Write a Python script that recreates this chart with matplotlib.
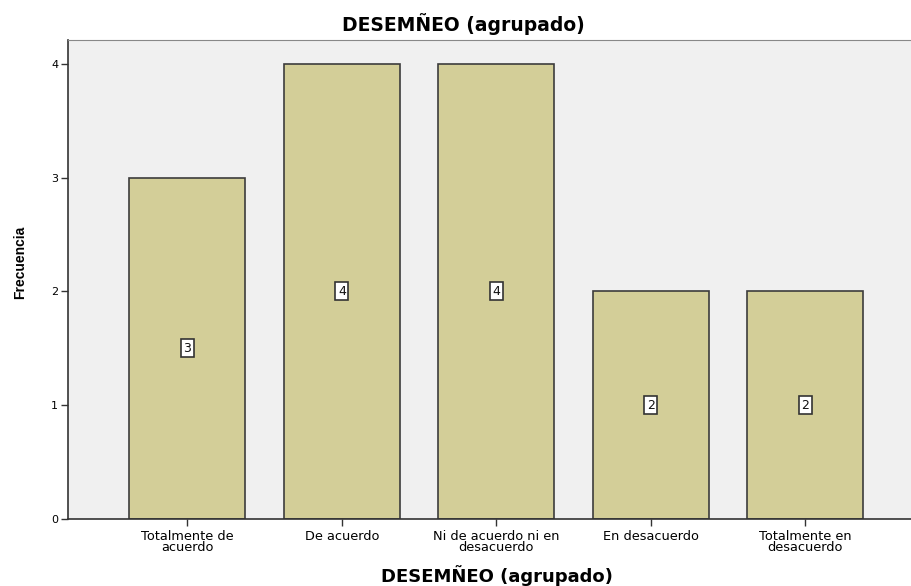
import matplotlib
matplotlib.use("Agg")
import matplotlib.pyplot as plt

categories = ["Totalmente de\nacuerdo", "De acuerdo", "Ni de acuerdo ni en\ndesacuerdo",
              "En desacuerdo", "Totalmente en\ndesacuerdo"]
values = [3, 4, 4, 2, 2]
yticks = [0, 1, 2, 3, 4]

plt.rcParams['font.family'] = ['DejaVu Sans']

W, H = 912, 586
fig = plt.figure(figsize=(W/100, H/100), dpi=100)
left, right, top, bottom = 68, 912, 40, 519
ax = fig.add_axes([left/W, 1 - bottom/H, (right-left)/W, (bottom-top)/H])
ax.set_facecolor('#F0F0F0')

x = list(range(len(categories)))
ax.bar(x, values, width=0.75, color='#D3CE98', edgecolor='#3C3C3C', linewidth=1.2, zorder=2)
for xi, v in zip(x, values):
    ax.text(xi, v/2, str(v), ha='center', va='center', fontsize=9, color='#111111', zorder=3,
            bbox=dict(boxstyle='square,pad=0.2', facecolor='white', edgecolor='#333333', linewidth=1.2))

ax.set_xlim(-0.773, 4.69)
ax.set_ylim(0, 4.21)
ax.set_yticks(yticks)
ax.set_xticks(x)
ax.set_xticklabels(categories, fontsize=9.3, linespacing=0.78)
ax.tick_params(axis='y', labelsize=8, length=5, width=1, color='#333333', pad=2)
ax.tick_params(axis='x', length=5, width=1, color='#333333', pad=3)

for s in ['left', 'bottom']:
    ax.spines[s].set_color('#333333')
    ax.spines[s].set_linewidth(1.2)
ax.spines['top'].set_color('#888888')
ax.spines['right'].set_visible(False)

fig.text(463/W, 1 - 31/H, "DESEMÑEO (agrupado)", ha='center', va='baseline',
         fontsize=13.5, fontweight='bold')
fig.text(497/W, 1 - 582/H, "DESEMÑEO (agrupado)", ha='center', va='baseline',
         fontsize=13, fontweight='bold')
fig.text(20/W, 1 - 262/H, "Frecuencia", ha='center', va='center', rotation=90,
         fontsize=10, fontweight='bold', family=['Liberation Sans', 'DejaVu Sans'])

fig.savefig("out.png", dpi=100)
